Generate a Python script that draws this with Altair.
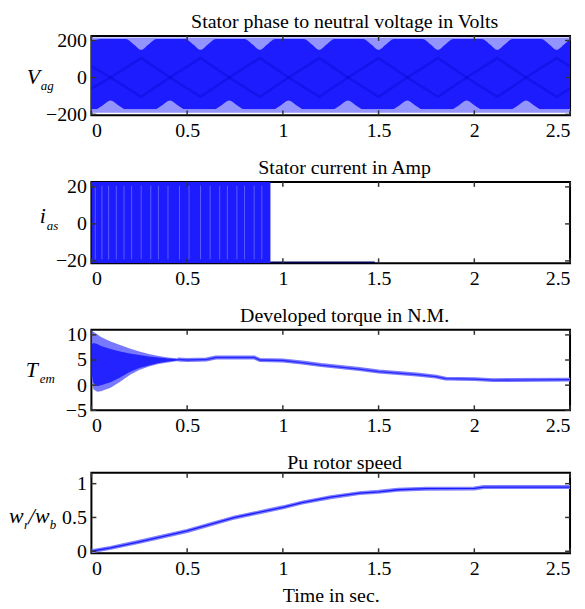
import altair as alt
import pandas as pd

FONT = "'Liberation Serif', 'Times New Roman', 'DejaVu Serif', serif"
DENSE = "#1c1cff"
LIGHT = "#9494ff"
DARK = "#0000c0"

# ---------------- data ----------------
x_ticks = [0, 0.5, 1, 1.5, 2, 2.5]
x_domain = [0, 2.5]

# Panel 1: stator phase voltage (dense PWM band)
v_band_t = [0.0, 2.5]
v_band_hi = [215, 215]
v_band_lo = [-190, -190]
v_dense_t = [0.0, 2.5]
v_dense_hi = [208, 208]
v_dense_lo = [-172, -172]
v_topgap_t = [0.00, 0.05, 0.18, 0.22, 0.26, 0.30, 0.34, 0.49, 0.53, 0.57, 0.61, 0.65,
              0.80, 0.84, 0.88, 0.92, 0.96, 1.11, 1.15, 1.19, 1.23, 1.27, 1.42, 1.46,
              1.50, 1.54, 1.58, 1.73, 1.77, 1.81, 1.85, 1.89, 2.04, 2.08, 2.12, 2.16,
              2.20, 2.35, 2.39, 2.43, 2.47, 2.50]
v_topgap_v = [195, 208, 208, 180, 150, 180, 208, 208, 180, 150, 180, 208,
              208, 180, 150, 180, 208, 208, 180, 150, 180, 208, 208, 180,
              150, 180, 208, 208, 180, 150, 180, 208, 208, 180, 150, 180,
              208, 208, 180, 150, 180, 208]
v_botgap_t = [0.00, 0.02, 0.06, 0.10, 0.14, 0.18, 0.33, 0.37, 0.41, 0.45, 0.49, 0.64,
              0.68, 0.72, 0.76, 0.80, 0.95, 0.99, 1.03, 1.07, 1.11, 1.26, 1.30, 1.34,
              1.38, 1.42, 1.57, 1.61, 1.65, 1.69, 1.73, 1.88, 1.92, 1.96, 2.00, 2.04,
              2.19, 2.23, 2.27, 2.31, 2.35, 2.50]
v_botgap_v = [-172, -172, -150, -125, -150, -172, -172, -150, -125, -150, -172, -172,
              -150, -125, -150, -172, -172, -150, -125, -150, -172, -172, -150, -125,
              -150, -172, -172, -150, -125, -150, -172, -172, -150, -125, -150, -172,
              -172, -150, -125, -150, -172, -172]
v_fund_t = [0.0, 0.10, 0.26, 0.41, 0.57, 0.72, 0.88, 1.03, 1.19, 1.34, 1.50, 1.65,
            1.81, 1.96, 2.12, 2.27, 2.43, 2.50]
v_fund_a = [-60, 0, 105, 0, -105, 0, 105, 0, -105, 0, 105, 0, -105, 0, 105, 0, -105, -60]
v_fund_b = [60, 0, -105, 0, 105, 0, -105, 0, 105, 0, -105, 0, 105, 0, -105, 0, 105, 60]

# Panel 2: stator current (dense, clipped at the limits until ~0.935 s)
i_band_t = [0.0, 0.935]
i_band_hi = [22.7, 22.7]
i_band_lo = [-21.3, -21.3]
i_stripes = [0.02, 0.055, 0.09, 0.13, 0.17, 0.21, 0.26, 0.31, 0.35, 0.40, 0.46,
             0.51, 0.57, 0.62, 0.67, 0.71, 0.76, 0.80, 0.85, 0.89]
i_tail_t = [0.935, 1.48]
i_tail_v = [-21.0, -21.0]

# Panel 3: developed torque
te_env_t = [0.0, 0.01, 0.03, 0.05, 0.10, 0.15, 0.20, 0.25, 0.30, 0.35, 0.40, 0.45, 0.50]
te_env_hi = [10.8, 10.6, 10.1, 9.6, 8.7, 8.0, 7.3, 6.7, 6.2, 5.8, 5.5, 5.3, 5.1]
te_env_lo = [1.5, -0.8, -1.3, -1.2, -0.5, 0.7, 2.0, 3.0, 3.7, 4.2, 4.5, 4.8, 4.95]
te_core_hi = [8.0, 8.4, 8.2, 7.8, 7.2, 6.7, 6.3, 6.0, 5.7, 5.5, 5.3, 5.2, 5.05]
te_core_lo = [2.5, 0.5, -0.2, 0.0, 0.6, 1.5, 2.6, 3.4, 3.9, 4.4, 4.7, 4.9, 5.0]
te_t = [0.45, 0.50, 0.60, 0.65, 0.85, 0.88, 1.00, 1.10, 1.20, 1.30, 1.40, 1.50,
        1.60, 1.70, 1.80, 1.85, 2.00, 2.10, 2.50]
te_v = [5.1, 5.0, 5.1, 5.5, 5.5, 5.0, 4.9, 4.5, 4.0, 3.6, 3.2, 2.7,
        2.4, 2.1, 1.7, 1.3, 1.2, 1.0, 1.1]

# Panel 4: per-unit rotor speed
w_t = [0.0, 0.10, 0.25, 0.50, 0.75, 1.00, 1.10, 1.25, 1.40, 1.50, 1.60, 1.75, 2.00, 2.05, 2.50]
w_v = [0.0, 0.05, 0.14, 0.30, 0.50, 0.65, 0.72, 0.80, 0.86, 0.88, 0.91, 0.925, 0.93, 0.95, 0.95]

# ---------------- helpers ----------------
W = 482
FMT = ".3~r"


def xenc(field, xtitle=None):
    return alt.X(field, type="quantitative",
                 scale=alt.Scale(domain=x_domain, nice=False, zero=False),
                 axis=alt.Axis(values=x_ticks, format=FMT, title=xtitle))


def yenc(field, dom, ticks):
    return alt.Y(field, type="quantitative",
                 scale=alt.Scale(domain=dom, nice=False, zero=False),
                 axis=alt.Axis(values=ticks, format=FMT, title=None))


def ticks_layers(dom, yticks, H, xtitle):
    dfx = pd.DataFrame({"v": x_ticks})
    dfy = pd.DataFrame({"v": yticks})
    sty = dict(color="#333333", strokeWidth=1.5)
    return [
        alt.Chart(dfx).mark_rule(**sty).encode(x=xenc("v", xtitle), y=alt.value(H), y2=alt.value(H - 5)),
        alt.Chart(dfx).mark_rule(**sty).encode(x=xenc("v", xtitle), y=alt.value(0), y2=alt.value(5)),
        alt.Chart(dfy).mark_rule(**sty).encode(y=yenc("v", dom, yticks), x=alt.value(0), x2=alt.value(5)),
        alt.Chart(dfy).mark_rule(**sty).encode(y=yenc("v", dom, yticks), x=alt.value(W - 5), x2=alt.value(W)),
    ]


def label_layers(pieces):
    out = []
    one = pd.DataFrame({"k": [0]})
    for txt, px, py, size in pieces:
        out.append(alt.Chart(one).mark_text(text=txt, font=FONT, fontStyle="italic", fontSize=size,
                                            align="left", baseline="alphabetic", color="black")
                   .encode(x=alt.value(px), y=alt.value(py)))
    return out


def title(text):
    return alt.TitleParams(text=text, font=FONT, fontSize=20, fontWeight="normal",
                           color="black", anchor="middle", dx=14, offset=-1)


# ---------------- panel 1 ----------------
H1 = 80
d1 = [-205, 225]
t1 = [-200, 0, 200]
p1_layers = [
    alt.Chart(pd.DataFrame({"t": v_band_t, "hi": v_band_hi, "lo": v_band_lo}))
    .mark_area(color=LIGHT, clip=True).encode(x=xenc("t"), y=yenc("hi", d1, t1), y2="lo"),
    alt.Chart(pd.DataFrame({"t": v_dense_t, "hi": v_dense_hi, "lo": v_dense_lo}))
    .mark_area(color=DENSE, clip=True).encode(x=xenc("t"), y=yenc("hi", d1, t1), y2="lo"),
    alt.Chart(pd.DataFrame({"t": v_topgap_t, "v": v_topgap_v, "top": [215] * len(v_topgap_t)}))
    .mark_area(color=LIGHT, interpolate="monotone", clip=True).encode(x=xenc("t"), y=yenc("v", d1, t1), y2="top"),
    alt.Chart(pd.DataFrame({"t": v_botgap_t, "v": v_botgap_v, "bot": [-190] * len(v_botgap_t)}))
    .mark_area(color=LIGHT, interpolate="monotone", clip=True).encode(x=xenc("t"), y=yenc("v", d1, t1), y2="bot"),
    alt.Chart(pd.DataFrame({"t": v_fund_t, "v": v_fund_a}))
    .mark_line(color=DARK, strokeWidth=2.5, opacity=0.3, clip=True).encode(x=xenc("t"), y=yenc("v", d1, t1)),
    alt.Chart(pd.DataFrame({"t": v_fund_t, "v": v_fund_b}))
    .mark_line(color=DARK, strokeWidth=2.5, opacity=0.3, clip=True).encode(x=xenc("t"), y=yenc("v", d1, t1)),
]
p1 = alt.layer(*p1_layers, *ticks_layers(d1, t1, H1, None),
               *label_layers([("V", -65, 48, 22), ("ag", -51, 54, 13)])
               ).properties(width=W, height=H1, title=title("Stator phase to neutral voltage in Volts"))

# ---------------- panel 2 ----------------
H2 = 82
d2 = [-21.3, 22.7]
t2 = [-20, 0, 20]
p2_layers = [
    alt.Chart(pd.DataFrame({"t": i_band_t, "hi": i_band_hi, "lo": i_band_lo}))
    .mark_area(color=DENSE, clip=True).encode(x=xenc("t"), y=yenc("hi", d2, t2), y2="lo"),
    alt.Chart(pd.DataFrame({"t": i_stripes}))
    .mark_rule(color="#5c5cff", strokeWidth=1, clip=True).encode(x=xenc("t"), y=alt.value(4), y2=alt.value(H2 - 4)),
    alt.Chart(pd.DataFrame({"t": i_tail_t, "v": i_tail_v}))
    .mark_line(color="#000055", strokeWidth=2.5, clip=True).encode(x=xenc("t"), y=yenc("v", d2, t2)),
]
p2 = alt.layer(*p2_layers, *ticks_layers(d2, t2, H2, None),
               *label_layers([("i", -52, 41, 22), ("as", -45, 48, 13)])
               ).properties(width=W, height=H2, title=title("Stator current in Amp"))

# ---------------- panel 3 ----------------
H3 = 81
d3 = [-5, 11]
t3 = [-5, 0, 5, 10]
p3_layers = [
    alt.Chart(pd.DataFrame({"t": te_env_t, "hi": te_env_hi, "lo": te_env_lo}))
    .mark_area(color="#6a6aff", opacity=0.9, clip=True).encode(x=xenc("t"), y=yenc("hi", d3, t3), y2="lo"),
    alt.Chart(pd.DataFrame({"t": te_env_t, "hi": te_core_hi, "lo": te_core_lo}))
    .mark_area(color="#1a1aff", opacity=0.9, clip=True).encode(x=xenc("t"), y=yenc("hi", d3, t3), y2="lo"),
    alt.Chart(pd.DataFrame({"t": te_t, "v": te_v}))
    .mark_line(color="#7a7aff", strokeWidth=4, clip=True).encode(x=xenc("t"), y=yenc("v", d3, t3)),
    alt.Chart(pd.DataFrame({"t": te_t, "v": te_v}))
    .mark_line(color="#2a2aff", strokeWidth=1.3, clip=True).encode(x=xenc("t"), y=yenc("v", d3, t3)),
]
p3 = alt.layer(*p3_layers, *ticks_layers(d3, t3, H3, None),
               *label_layers([("T", -66, 47, 22), ("em", -52, 54, 13)])
               ).properties(width=W, height=H3, title=title("Developed torque in N.M."))

# ---------------- panel 4 ----------------
H4 = 81
d4 = [-0.03, 1.16]
t4 = [0, 0.5, 1]
XT = "Time in sec."
p4_layers = [
    alt.Chart(pd.DataFrame({"t": w_t, "v": w_v}))
    .mark_line(color="#8080ff", strokeWidth=4, clip=True).encode(x=xenc("t", XT), y=yenc("v", d4, t4)),
    alt.Chart(pd.DataFrame({"t": w_t, "v": w_v}))
    .mark_line(color="#1a1aff", strokeWidth=1.3, clip=True).encode(x=xenc("t", XT), y=yenc("v", d4, t4)),
]
p4 = alt.layer(*p4_layers, *ticks_layers(d4, t4, H4, XT),
               *label_layers([("w", -83, 51, 22), ("r", -68, 57, 13), ("/w", -63, 51, 22), ("b", -42, 57, 13)])
               ).properties(width=W, height=H4, title=title("Pu rotor speed"))

chart = (
    alt.vconcat(p1, p2, p3, p4, spacing=16)
    .properties(padding={"left": 0, "top": 0, "right": 5, "bottom": 0})
    .configure_view(stroke="black", strokeWidth=2)
    .configure_axis(labelFont=FONT, labelFontSize=20, labelColor="black", ticks=False, domain=False,
                    grid=False, labelPadding=5, titleFont=FONT, titleFontSize=20, titleFontWeight="normal",
                    titleColor="black", titlePadding=8)
)

chart.save("out.html", embed_options={"renderer": "svg", "actions": False})
